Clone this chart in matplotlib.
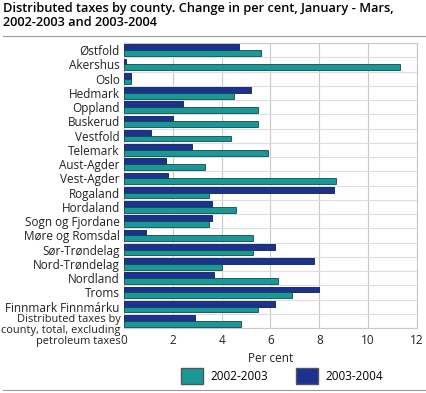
import matplotlib
matplotlib.use("Agg")
import matplotlib.pyplot as plt
import matplotlib.transforms as mtransforms
import numpy as np
from matplotlib.patches import Patch
from matplotlib.lines import Line2D

plt.rcParams["font.family"] = ["Open Sans", "DejaVu Sans"]

counties = [
    "Østfold", "Akershus", "Oslo", "Hedmark", "Oppland", "Buskerud",
    "Vestfold", "Telemark", "Aust-Agder", "Vest-Agder", "Rogaland",
    "Hordaland", "Sogn og Fjordane", "Møre og Romsdal", "Sør-Trøndelag",
    "Nord-Trøndelag", "Nordland", "Troms", "Finnmark Finnmárku",
    "Distributed taxes by\ncounty, total, excluding\npetroleum taxes",
]
change_0203 = [5.6, 11.3, 0.3, 4.5, 5.5, 5.5, 4.4, 5.9, 3.3, 8.7, 3.5,
               4.6, 3.5, 5.3, 5.3, 4.0, 6.3, 6.9, 5.5, 4.8]
change_0304 = [4.7, 0.1, 0.3, 5.2, 2.4, 2.0, 1.1, 2.8, 1.7, 1.8, 8.6,
               3.6, 3.6, 0.9, 6.2, 7.8, 3.7, 8.0, 6.2, 2.9]

teal = "#1a9896"
navy = "#1c3290"

fig = plt.figure(figsize=(4.27, 3.93), dpi=100)
ax = fig.add_axes([124 / 427, 1 - 328 / 393, 293 / 427, 285 / 393])

y = np.arange(len(counties))
h = 0.40
ax.barh(y - h / 2, change_0304, height=h, color=navy, edgecolor="#0d1f4a", linewidth=0.6, zorder=3)
ax.barh(y + h / 2, change_0203, height=h, color=teal, edgecolor="#0e4a48", linewidth=0.6, zorder=3)

ax.set_xlim(0, 12)
ax.set_ylim(len(counties) - 0.5, -0.5)
ax.set_xticks(range(0, 13, 2))
ax.set_yticks(y)
# last label is three lines; draw it by hand so it hangs down like the original
ax.set_yticklabels(counties[:-1] + [""], fontsize=8.5)
trans = mtransforms.blended_transform_factory(ax.transAxes, ax.transData)
ax.text(-0.012, y[-1] - 0.46, counties[-1], transform=trans, ha="right", va="top",
        fontsize=7.9, linespacing=1.0, color="#222222")
ax.tick_params(axis="x", labelsize=8.5, length=0, pad=4, colors="#222222")
ax.tick_params(axis="y", length=0, pad=3, colors="#222222")
ax.set_yticks(np.arange(-0.5, len(counties), 1), minor=True)
ax.tick_params(axis="y", which="minor", length=0)
ax.grid(axis="x", color="#c8c8c8", linewidth=0.8, zorder=0)
ax.grid(axis="y", which="minor", color="#dddddd", linewidth=0.8, zorder=0)
for s in ax.spines.values():
    s.set_color("#c8c8c8")
    s.set_linewidth(0.8)
ax.set_xlabel("Per cent", fontsize=8.5, labelpad=4, color="#222222")

fig.text(3 / 427, 1 - 2 / 393, "Distributed taxes by county. Change in per cent, January - Mars,\n2002-2003 and 2003-2004",
         fontsize=9.2, fontweight="semibold", va="top", ha="left", linespacing=1.05)
fig.add_artist(Line2D([3 / 427, 425 / 427], [1 - 36 / 393, 1 - 36 / 393], color="#999999", linewidth=0.8))
fig.add_artist(Line2D([3 / 427, 425 / 427], [1 - 390 / 393, 1 - 390 / 393], color="#999999", linewidth=0.8))

handles = [Patch(facecolor=teal, edgecolor="#555555", label="2002-2003"),
           Patch(facecolor=navy, edgecolor="#555555", label="2003-2004")]
fig.legend(handles=handles, loc="center", bbox_to_anchor=(282 / 427, 1 - 376 / 393), ncol=2,
           frameon=False, fontsize=8.5, handlelength=1.85, handleheight=1.7, columnspacing=2.4,
           handletextpad=0.6)

fig.savefig("out.png", dpi=100)
